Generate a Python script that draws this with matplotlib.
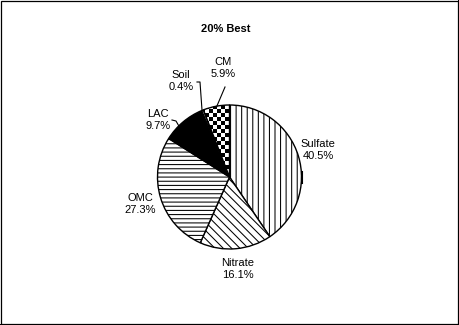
import numpy as np
import matplotlib
matplotlib.use('Agg')
import matplotlib.pyplot as plt
from matplotlib.patches import Rectangle

plt.rcParams['font.family'] = ['Liberation Sans', 'DejaVu Sans']
plt.rcParams['hatch.linewidth'] = 0.75
plt.rcParams['hatch.color'] = 'black'

title = '20% Best'
names = ['Sulfate', 'Nitrate', 'OMC', 'LAC', 'Soil', 'CM']
shares = [40.5, 16.1, 27.3, 9.7, 0.4, 5.9]
hatches = ['|||', '\\\\\\\\', '----', None, None, None]
fills = ['white', 'white', 'white', 'black', 'white', 'white']

W, H = 460, 325
cx, cy, R = 229.5, 177, 72   # pie centre / radius in pixels (top origin)

# label centres in pixels (top origin)
lab_xy = [(318, 150), (238, 269), (140, 204), (158, 120), (181, 81), (223, 68)]

def P(x, y):
    return x, H - y

fig = plt.figure(figsize=(W / 100, H / 100), dpi=100)
ax = fig.add_axes([0, 0, 1, 1])
ax.set_xlim(0, W)
ax.set_ylim(0, H)
ax.axis('off')

wedges, _ = ax.pie(shares, center=P(cx, cy), radius=R, startangle=90,
                   counterclock=False, colors=fills,
                   wedgeprops=dict(edgecolor='black', linewidth=1))
for w, h in zip(wedges, hatches):
    if h:
        w.set_hatch(h)

# checkerboard for CM
n = int(2 * R / 4)
board = np.indices((n, n)).sum(axis=0) % 2
x0, y0 = P(cx, cy)
im = ax.imshow(board, cmap='gray', interpolation='nearest', aspect='auto',
               extent=[x0 - R, x0 + R, y0 - R, y0 + R], zorder=wedges[5].get_zorder())
im.set_clip_path(wedges[5])
wedges[5].set_facecolor('none')
wedges[5].set_zorder(im.get_zorder() + 0.1)
ax.set_xlim(0, W)
ax.set_ylim(0, H)

for name, s, (lx, ly) in zip(names, shares, lab_xy):
    ax.text(*P(lx, ly), f'{name}\n{s}%', ha='center', va='center',
            fontsize=8, linespacing=1.25)

# leader lines
lk = dict(color='black', lw=0.8)
ax.plot(*zip(P(197, 82), P(200, 82), P(202, 110)), **lk)
ax.plot(*zip(P(225, 87), P(216.5, 107)), **lk)
ax.plot(*zip(P(172, 120), P(176, 121), P(180, 128)), **lk)
ax.plot(*zip(P(302.5, 172), P(302.5, 183)), color='black', lw=1.5)

fig.text(226 / W, 1 - 29 / H, title, ha='center', va='center',
         fontsize=8, fontweight='bold')

fig.add_artist(Rectangle((0.5 / W, 1.5 / H), (W - 2) / W, (H - 2) / H,
                         transform=fig.transFigure, fill=False,
                         edgecolor='black', lw=0.9))
fig.add_artist(Rectangle(((W - 1.5) / W, 0), 1.5 / W, 1, transform=fig.transFigure,
                         facecolor='black', edgecolor='none'))
fig.add_artist(Rectangle((0, 0), 1, 1.5 / H, transform=fig.transFigure,
                         facecolor='black', edgecolor='none'))

fig.savefig('out.png', dpi=100)
